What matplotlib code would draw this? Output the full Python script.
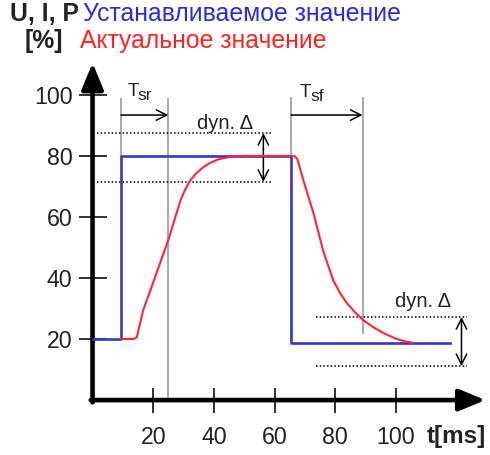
import matplotlib
matplotlib.use('Agg')
import matplotlib.pyplot as plt

plt.rcParams['font.family'] = ['Liberation Sans', 'DejaVu Sans']

# set value (blue) and actual value (red), t in ms, value in %
t_set = [0, 9.4, 9.4, 65.4, 65.4, 117.8]
v_set = [20, 20, 80, 80, 18.8, 18.8]

t_act = [9.4, 13.5, 14.6, 16.7, 18.9, 21.1, 23.0, 25.0, 27.7, 29.0, 30.5, 32.2,
         34.3, 36.5, 38.7, 41.5, 45.3, 50.0, 66.5, 67.5, 69.5, 72.8, 76.0,
         79.3, 81.5, 83.8, 86.5, 89.2, 92.5, 95.8, 100.0, 103.5, 105.5]
v_act = [20, 20, 20.6, 29.5, 35.5, 41.6, 47.0, 52.5, 61.3, 65.5, 68.9, 72.0,
         74.4, 76.3, 77.7, 78.9, 79.7, 80.0, 80.0, 79.0, 72.0, 61.3, 49.0,
         39.3, 35.2, 31.8, 28.8, 26.2, 23.9, 22.0, 20.1, 19.1, 18.8]

x_ticks = [20, 40, 60, 80, 100]
y_ticks = [20, 40, 60, 80, 100]

# thin grey guide lines: x, top, bottom
guides = [(9.4, 98.5, 80), (25.0, 98.5, 0), (65.4, 99.0, 80), (89.0, 99.0, 22)]

# tolerance band "dyn. Δ": x from, x to, upper, lower, arrow x
band_hi = (1.5, 59.0, 87.5, 71.5, 56.3)
band_lo = (73.6, 123.4, 27.2, 11.1, 121.6)

blue = '#3535d0'
red = '#ff2535'
grey = '#aaaaaa'

fig = plt.figure(figsize=(4.9, 4.55), dpi=100)
ax = fig.add_axes([0, 0, 1, 1])
ax.set_xlim(-30.5, 131)
ax.set_ylim(-18, 131.1)

for s in ax.spines.values():
    s.set_visible(False)
ax.spines['left'].set_position(('data', 0))
ax.spines['bottom'].set_position(('data', 0))

ax.set_xticks(x_ticks)
ax.set_yticks(y_ticks)
ax.tick_params(axis='y', direction='inout', length=20, width=1.3, pad=4.4,
               labelsize=16.7, colors='#222222')
ax.tick_params(axis='x', direction='inout', length=18, width=1.3, pad=10,
               labelsize=16.7, colors='#222222')

# axes with arrow heads
ax.annotate('', xy=(0, 110.5), xytext=(0, -0.75),
            arrowprops=dict(arrowstyle='-|>,head_length=0.8,head_width=0.33',
                            lw=3.3, color='black', mutation_scale=20,
                            shrinkA=0, shrinkB=0))
ax.annotate('', xy=(129.5, 0), xytext=(-0.6, 0),
            arrowprops=dict(arrowstyle='-|>,head_length=0.8,head_width=0.33',
                            lw=3.3, color='black', mutation_scale=20,
                            shrinkA=0, shrinkB=0))

for gx, top, bot in guides:
    ax.plot([gx, gx], [bot, top], color=grey, lw=1.4, zorder=1)

ax.plot(t_set, v_set, color=blue, lw=1.9, zorder=3)
ax.plot(t_act, v_act, color=red, lw=1.5, zorder=4, solid_joinstyle='round')

for x0, x1, hi, lo, xa in (band_hi, band_lo):
    for yy in (hi, lo):
        ax.plot([x0, x1], [yy, yy], color='black', lw=1.1,
                linestyle=(0, (1, 1.4)), zorder=2)
    ax.annotate('', xy=(xa, hi), xytext=(xa, lo),
                arrowprops=dict(arrowstyle='<->,head_length=0.5,head_width=0.25',
                                lw=1.1, color='black', mutation_scale=15,
                                shrinkA=0, shrinkB=0))

ax.text(34.4, 88.9, 'dyn. Δ', fontsize=14.5, va='baseline', color='#222222')
ax.text(99.7, 30.5, 'dyn. Δ', fontsize=14.5, va='baseline', color='#222222')

# settling time arrows
for xa, xb in ((9.4, 25.0), (65.4, 89.0)):
    ax.annotate('', xy=(xb, 93.4), xytext=(xa, 93.4),
                arrowprops=dict(arrowstyle='->,head_length=0.5,head_width=0.25',
                                lw=1.1, color='black', mutation_scale=15,
                                shrinkA=0, shrinkB=0))
for tx, ty, sub in ((11.4, 99.7, 'sr'), (68.4, 99.3, 'sf')):
    ax.text(tx, ty, 'T', fontsize=13.5, va='baseline', color='#222222')
    ax.annotate(sub, xy=(tx, ty), xytext=(7.8, -2.9), textcoords='offset points',
                fontsize=12.5, va='baseline', color='#222222')

ax.text(119.8, -12.1, 't[ms]', fontsize=17.5, fontweight='bold',
        ha='center', va='center', color='#222222')

fig.text(10 / 490, 1 - 21 / 455, 'U, I, P', fontsize=17.8, fontweight='bold',
         va='baseline', color='#222222')
fig.text(83 / 490, 1 - 21 / 455, 'Устанавливаемое значение', fontsize=17.8,
         va='baseline', color='#2a2ae0')
fig.text(25 / 490, 1 - 48 / 455, '[%]', fontsize=17.8, fontweight='bold',
         va='baseline', color='#222222')
fig.text(80 / 490, 1 - 48 / 455, 'Актуальное значение', fontsize=17.8,
         va='baseline', color='#ff2222')

fig.savefig('out.png', dpi=100)
